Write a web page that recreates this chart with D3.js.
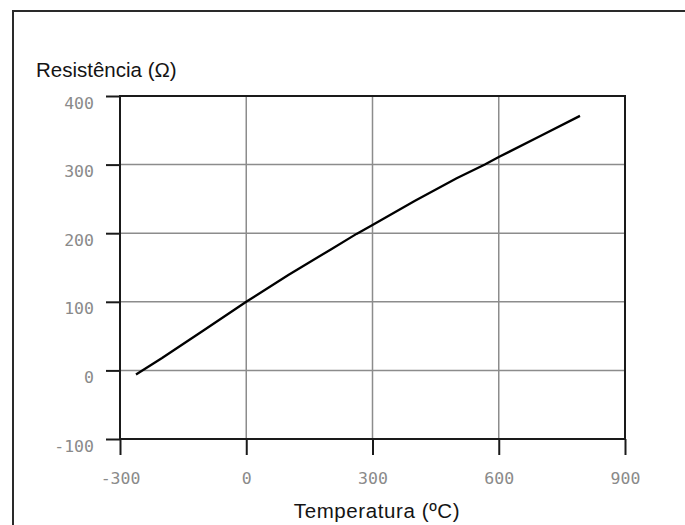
<!DOCTYPE html>
<html>
<head>
<meta charset="utf-8">
<script src="https://cdn.jsdelivr.net/npm/d3@7"></script>
<style>
  html, body { margin: 0; padding: 0; background: #fff; }
  svg { display: block; }
</style>
</head>
<body>
<script>
// valores (Pt100)
const temperaturas = [-262, -200, -100, 0, 100, 200, 262, 300, 400, 500, 567, 600, 700, 793];
const resistencias = [-6, 18, 59, 100, 139, 176, 199, 212, 247, 280, 300, 311, 342, 371];
const xTicks = [-300, 0, 300, 600, 900];
const yTicks = [-100, 0, 100, 200, 300, 400];
const xTitulo = "Temperatura (ºC)";
const yTitulo = "Resistência (Ω)";

const W = 685, H = 525;
const svg = d3.select("body").append("svg").attr("width", W).attr("height", H);

const x = d3.scaleLinear().domain([-300, 900]).range([120, 625]);
const y = d3.scaleLinear().domain([-100, 400]).range([439, 96]);

// moldura externa
svg.append("rect")
  .attr("x", 13).attr("y", 11)
  .attr("width", W).attr("height", H)
  .attr("fill", "none")
  .attr("stroke", "#2a2a2a")
  .attr("stroke-width", 2);

// grade
svg.append("g").selectAll("line")
  .data(xTicks.slice(1, -1))
  .join("line")
  .attr("x1", d => x(d)).attr("x2", d => x(d))
  .attr("y1", y(400)).attr("y2", y(-100))
  .attr("stroke", "#8c8c8c").attr("stroke-width", 1.5);

svg.append("g").selectAll("line")
  .data(yTicks.slice(1, -1))
  .join("line")
  .attr("x1", x(-300)).attr("x2", x(900))
  .attr("y1", d => y(d)).attr("y2", d => y(d))
  .attr("stroke", "#8c8c8c").attr("stroke-width", 1.5);

// eixos
const eixoX = svg.append("g")
  .attr("transform", "translate(0," + y(-100) + ")")
  .call(d3.axisBottom(x).tickValues(xTicks).tickFormat(d => String(d)).tickSize(16).tickSizeOuter(0));

const eixoY = svg.append("g")
  .attr("transform", "translate(" + x(-300) + ",0)")
  .call(d3.axisLeft(y).tickValues(yTicks).tickFormat(d => String(d)).tickSize(14).tickSizeOuter(0));

[eixoX, eixoY].forEach(g => {
  g.select(".domain").remove();
  g.selectAll(".tick line").attr("stroke", "#1a1a1a").attr("stroke-width", 2);
  g.selectAll(".tick text")
    .attr("font-family", "'DejaVu Sans Mono', monospace")
    .attr("font-size", 16.5)
    .attr("fill", "#8a8a8a");
});
eixoX.selectAll(".tick text").attr("y", 45).attr("dy", 0);
eixoY.selectAll(".tick text").attr("x", -26).attr("dy", 12);

// quadro da area do grafico
svg.append("rect")
  .attr("x", x(-300)).attr("y", y(400))
  .attr("width", x(900) - x(-300))
  .attr("height", y(-100) - y(400))
  .attr("fill", "none")
  .attr("stroke", "#1a1a1a")
  .attr("stroke-width", 2);

// curva
const linha = d3.line()
  .x((d, i) => x(temperaturas[i]))
  .y(d => y(d));

svg.append("path")
  .datum(resistencias)
  .attr("d", linha)
  .attr("fill", "none")
  .attr("stroke", "#000")
  .attr("stroke-width", 2.3);

// titulos
svg.append("text")
  .attr("x", 36).attr("y", 77)
  .attr("font-family", "'Liberation Sans', Arial, sans-serif")
  .attr("font-size", 20.5)
  .attr("fill", "#141414")
  .text(yTitulo);

svg.append("text")
  .attr("x", 377).attr("y", 518)
  .attr("text-anchor", "middle")
  .attr("font-family", "'Liberation Sans', Arial, sans-serif")
  .attr("font-size", 20.5)
  .attr("letter-spacing", 0.6)
  .attr("fill", "#141414")
  .text(xTitulo);
</script>
</body>
</html>
